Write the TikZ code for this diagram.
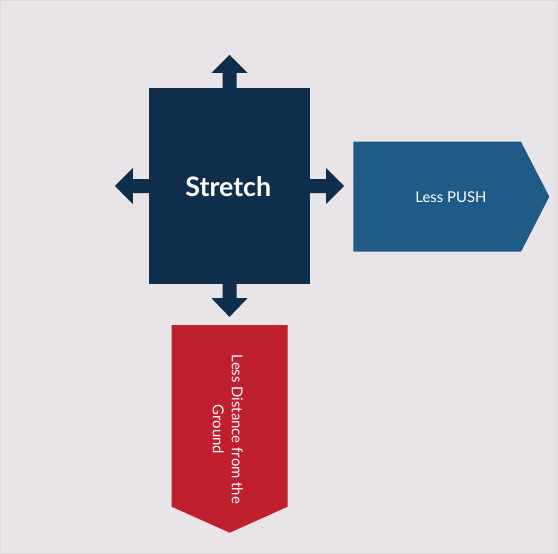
\documentclass[tikz,border=0pt]{standalone}
\usepackage{fontspec}
\setmainfont{Lato}
\definecolor{bgcol}{HTML}{E8E4E7}
\definecolor{edgecol}{HTML}{DADADA}
\definecolor{navy}{HTML}{0E2E4B}
\definecolor{pushblue}{HTML}{1F5B87}
\definecolor{groundred}{HTML}{C0202D}
\tikzset{
  sqbox/.style={fill=navy, inner sep=0pt},
  sqtext/.style={text=white, font=\bfseries\fontsize{26.8}{30}\selectfont, inner sep=0pt},
  barrow/.style={fill=navy},
  lbl/.style={text=white, font=\fontsize{14.9}{19}\selectfont, align=center, inner sep=0pt}
}
\begin{document}
\begin{tikzpicture}[x=1pt,y=-1pt]
\useasboundingbox (0,0) rectangle (558,554);
\fill[bgcol] (0,0) rectangle (558,554);
\draw[edgecol, line width=0.8pt] (0.4,0.4) rectangle (557.6,553.6);
% central square
\node[sqbox, minimum width=161pt, minimum height=196pt] (sq) at (229.5,186) {};
\node[sqtext] (stretch) at (228.3,187) {Stretch};
% four arrows
\fill[barrow] ([xshift=-7pt]sq.north) -- ++(0,-15) -- ++(-11,0) -- ++(18,-18) -- ++(18,18) -- ++(-11,0) -- ++(0,15) -- cycle;
\fill[barrow] ([xshift=-7pt]sq.south) -- ++(0,14) -- ++(-11,0) -- ++(18,18.7) -- ++(18,-18.7) -- ++(-11,0) -- ++(0,-14) -- cycle;
\fill[barrow] ([yshift=7pt]sq.west) -- ++(-16,0) -- ++(0,-11) -- ++(-18,18) -- ++(18,18) -- ++(0,-11) -- ++(16,0) -- cycle;
\fill[barrow] ([yshift=7pt]sq.east) -- ++(16,0) -- ++(0,-11) -- ++(18,18) -- ++(-18,18) -- ++(0,-11) -- ++(-16,0) -- cycle;
% Less PUSH pentagon
\fill[pushblue] (353.3,141.7) -- (521,141.7) -- (549.3,196.7) -- (521,251.7) -- (353.3,251.7) -- cycle;
\node[lbl] (push) at (451,196.7) {Less PUSH};
% Less Distance chevron
\fill[groundred] (171.7,325) -- (287.7,325) -- (287.7,506.7) -- (229.7,532.7) -- (171.7,506.7) -- cycle;
\node[lbl, rotate=-90] (ground) at (227.8,429.5) {Less Distance from the\\Ground};
\end{tikzpicture}
\end{document}
